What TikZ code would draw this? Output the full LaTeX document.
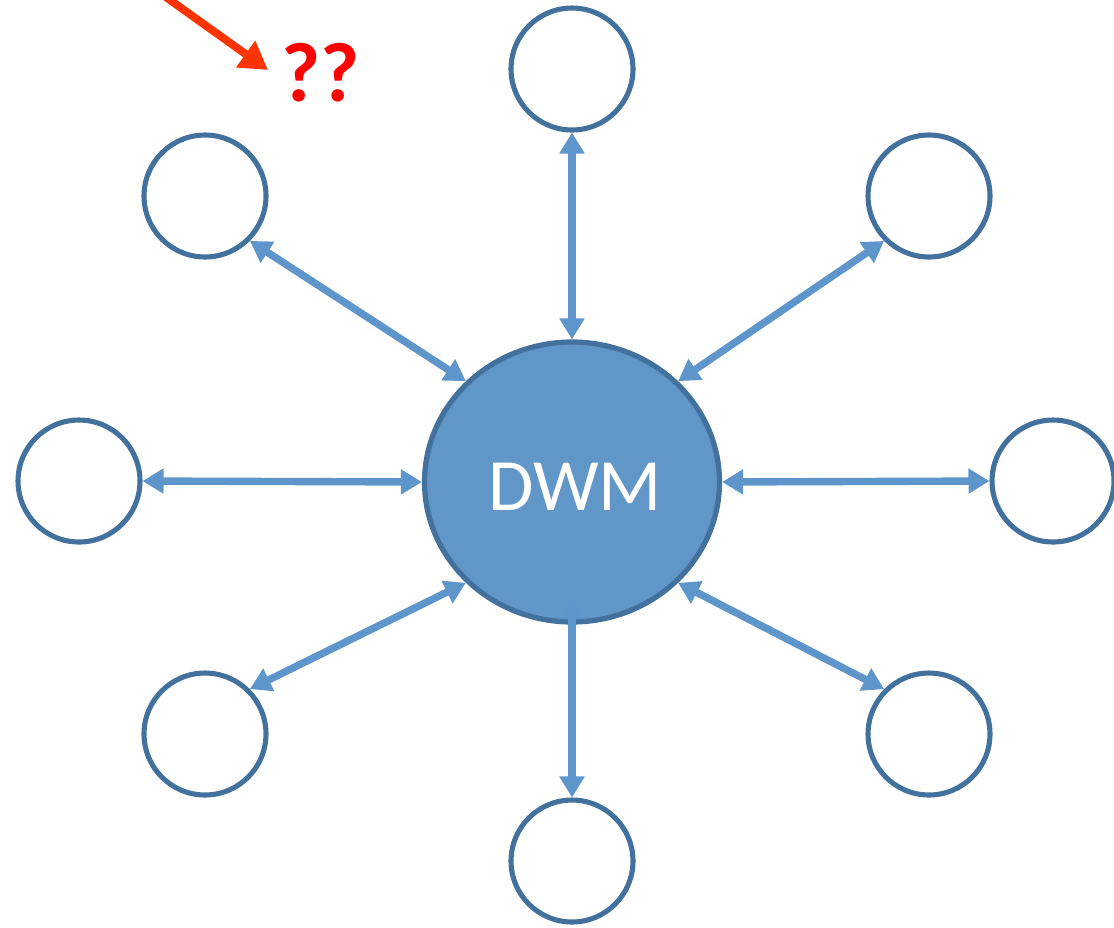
\documentclass[tikz,border=0pt]{standalone}
\usepackage{fontspec}
\setmainfont{Carlito}
\usetikzlibrary{arrows.meta,shapes.geometric}
\definecolor{dwmfill}{HTML}{6196C9}
\definecolor{dwmline}{HTML}{43719D}
\definecolor{link}{HTML}{5E96CB}
\definecolor{redarrow}{HTML}{FF3300}
\begin{document}
\begin{tikzpicture}[x=0.02cm,y=-0.02cm]
          \tikzstyle{every node}=[draw=dwmline,line width=2.9pt,shape=circle,minimum size=2.44cm,inner sep=0pt];
          \tikzstyle{link}=[draw=link,line width=4.2pt,{Triangle[length=0.42cm,width=0.48cm]}-{Triangle[length=0.42cm,width=0.48cm]}];
          \useasboundingbox (0,0) rectangle (1114,927);
          %\node (name) at (x,y) {text};
          \node (dwm) at (572,482) [shape=ellipse,fill=dwmfill,line width=3pt,minimum width=5.9cm,minimum height=5.6cm] {};
          \node (1) at (572,69) {};
          \node (2) at (929,196) {};
          \node (3) at (1053,481) {};
          \node (4) at (929,734) {};
          \node (5) at (572,861) {};
          \node (6) at (205,734) {};
          \node (7) at (79,481) {};
          \node (8) at (205,196) {};
          \coordinate (in) at (572,598);
          \draw[link] (1.south)--(dwm.north);
          \draw[link] (2.south west)--(dwm.north east);
          \draw[link] (3.west)--(dwm.east);
          \draw[link] (4.north west)--(dwm.south east);
          \draw[link] (5.north)--(in);
          \draw[link] (6.north east)--(dwm.south west);
          \draw[link] (7.east)--(dwm.west);
          \draw[link] (8.south east)--(dwm.north west);
          \node[draw=none,text=white,font=\fontsize{42}{50}\selectfont] (label) at (575,487) {DWM};
          %red marker
          \node[draw=none,text=red,font=\bfseries\fontsize{48}{56}\selectfont] (q) at (321,73) {??};
          \coordinate (start) at (163,-5);
          \coordinate (tip) at (268,70);
          \draw[redarrow,line width=4.5pt,-{Triangle[length=0.55cm,width=0.62cm]}] (start)--(tip);
      \end{tikzpicture}
\end{document}
